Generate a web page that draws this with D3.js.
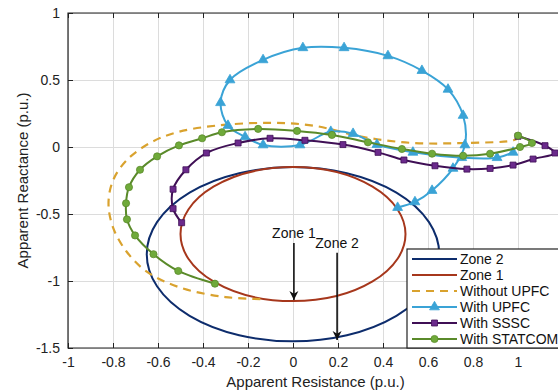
<!DOCTYPE html>
<html>
<head>
<meta charset="utf-8">
<script src="https://cdn.jsdelivr.net/npm/d3@7"></script>
<style>
  body { margin: 0; background: #fff; }
  svg { display: block; font-family: "Liberation Sans", Arial, sans-serif; }
  .grid line { stroke: #dcdcdc; stroke-width: 1; }
  .grid .domain { display: none; }
  .axis text { font-size: 14px; fill: #222; }
  .axis .domain { display: none; }
  .axis line { stroke: #222; }
</style>
</head>
<body>
<svg id="chart" width="558" height="390"></svg>
<script>
// ticks
const xTicks = [-1, -0.8, -0.6, -0.4, -0.2, 0, 0.2, 0.4, 0.6, 0.8, 1];
const yTicks = [-1.5, -1, -0.5, 0, 0.5, 1];

// mho zones: [centerR, centerX, radius]
const zone2 = [0, -0.8, 0.65];
const zone1 = [0, -0.65, 0.5];

// impedance trajectories [R, X]
const withoutUpfc = [
  [1.01, 0.075], [0.98, 0.05], [0.756, 0.03], [0.533, 0.03], [0.31, 0.075],
  [0.089, 0.16], [-0.116, 0.18], [-0.338, 0.16], [-0.516, 0.11], [-0.636, 0.03],
  [-0.74, -0.1], [-0.8, -0.25], [-0.82, -0.42], [-0.8, -0.6], [-0.74, -0.78],
  [-0.65, -0.93], [-0.5, -1.05], [-0.3, -1.12], [-0.13, -1.135]
];
const withUpfc = [
  [0.978, -0.04], [0.907, -0.08], [0.75, -0.08], [0.533, -0.04], [0.373, 0.018],
  [0.267, 0.1], [0.168, 0.115], [0.031, 0.015], [-0.133, 0.015], [-0.213, 0.075],
  [-0.289, 0.16], [-0.322, 0.33], [-0.28, 0.5], [-0.133, 0.65], [0.044, 0.74],
  [0.227, 0.74], [0.422, 0.68], [0.573, 0.57], [0.689, 0.43], [0.756, 0.235],
  [0.764, 0.015], [0.711, -0.16], [0.618, -0.325], [0.542, -0.41], [0.465, -0.452]
];
const withSssc = [
  [1.0, 0.08], [1.12, 0.01], [1.164, -0.045], [1.067, -0.09], [0.978, -0.135],
  [0.876, -0.16], [0.773, -0.165], [0.631, -0.14], [0.493, -0.097], [0.378, -0.04],
  [0.222, 0.018], [0.053, 0.05], [-0.102, 0.065], [-0.244, 0.03], [-0.385, -0.045],
  [-0.476, -0.17], [-0.533, -0.315], [-0.533, -0.46], [-0.495, -0.565]
];
const withStatcom = [
  [1.0, 0.085], [1.062, 0.03], [1.009, 0.0], [0.876, -0.05], [0.756, -0.065],
  [0.618, -0.05], [0.484, -0.015], [0.333, 0.035], [0.173, 0.09], [0.018, 0.12],
  [-0.155, 0.135], [-0.316, 0.11], [-0.404, 0.065], [-0.507, 0.012], [-0.604, -0.07],
  [-0.68, -0.17], [-0.729, -0.3], [-0.742, -0.42], [-0.738, -0.54], [-0.702, -0.66],
  [-0.62, -0.8], [-0.51, -0.925], [-0.347, -1.02]
];

// annotation arrows: label, R, X from, X to
const arrows = [
  ['Zone 1', 0.004, -0.716, -1.142],
  ['Zone 2', 0.196, -0.79, -1.44]
];

const legendNames = ['Zone 2', 'Zone 1', 'Without UPFC', 'With UPFC', 'With SSSC', 'With STATCOM'];

const colors = {
  zone2: '#0d2c6c',
  zone1: '#a6371c',
  without: '#d9a22e',
  upfc: '#3aa3d6',
  sssc: '#3f0f55',
  ssscFill: '#6b2a8c',
  statcom: '#5a8a2a',
  statcomFill: '#6faa3a'
};

const width = 558, height = 390;
const margin = {top: 13, right: -5, bottom: 42, left: 68};

const svg = d3.select('#chart');

const x = d3.scaleLinear().domain([-1, 1.2]).range([margin.left, width - margin.right]);
const y = d3.scaleLinear().domain([-1.5, 1]).range([height - margin.bottom, margin.top]);

svg.append('defs').append('clipPath').attr('id', 'plot')
  .append('rect')
  .attr('x', x(-1)).attr('y', y(1))
  .attr('width', x(1.2) - x(-1)).attr('height', y(-1.5) - y(1));

// grid
svg.append('g').attr('class', 'grid')
  .attr('transform', `translate(0,${y(-1.5)})`)
  .call(d3.axisBottom(x).tickValues(xTicks).tickSize(-(y(-1.5) - y(1))).tickFormat(''));
svg.append('g').attr('class', 'grid')
  .attr('transform', `translate(${x(-1)},0)`)
  .call(d3.axisLeft(y).tickValues(yTicks).tickSize(-(x(1.2) - x(-1))).tickFormat(''));

const fmt = d => String(d).replace('-', '-');

// axes with inward ticks
svg.append('g').attr('class', 'axis')
  .attr('transform', `translate(0,${y(-1.5)})`)
  .call(d3.axisBottom(x).tickValues(xTicks).tickSizeInner(-5).tickSizeOuter(0).tickPadding(9).tickFormat(fmt));
svg.append('g').attr('class', 'axis')
  .attr('transform', `translate(0,${y(1)})`)
  .call(d3.axisTop(x).tickValues(xTicks).tickSizeInner(-5).tickSizeOuter(0).tickFormat(''));
svg.append('g').attr('class', 'axis')
  .attr('transform', `translate(${x(-1)},0)`)
  .call(d3.axisLeft(y).tickValues(yTicks).tickSizeInner(-5).tickSizeOuter(0).tickPadding(8).tickFormat(fmt));

const plot = svg.append('g').attr('clip-path', 'url(#plot)');

// zones
[[zone2, colors.zone2], [zone1, colors.zone1]].forEach(([z, c]) => {
  plot.append('ellipse')
    .attr('cx', x(z[0])).attr('cy', y(z[1]))
    .attr('rx', x(z[2]) - x(0)).attr('ry', y(0) - y(z[2]))
    .attr('fill', 'none').attr('stroke', c).attr('stroke-width', 2);
});

const line = d3.line().x(d => x(d[0])).y(d => y(d[1])).curve(d3.curveCatmullRom.alpha(0.5));

plot.append('path').datum(withoutUpfc)
  .attr('d', line).attr('fill', 'none')
  .attr('stroke', colors.without).attr('stroke-width', 2.2).attr('stroke-dasharray', '8,6');

const triangle = d3.symbol().type(d3.symbolTriangle).size(42);
const square = d3.symbol().type(d3.symbolSquare).size(36);
const circle = d3.symbol().type(d3.symbolCircle).size(40);

const series = [
  {data: withUpfc, stroke: colors.upfc, fill: colors.upfc, sym: triangle},
  {data: withSssc, stroke: colors.sssc, fill: colors.ssscFill, sym: square},
  {data: withStatcom, stroke: colors.statcom, fill: colors.statcomFill, sym: circle}
];

series.forEach(s => {
  plot.append('path').datum(s.data)
    .attr('d', line).attr('fill', 'none')
    .attr('stroke', s.stroke).attr('stroke-width', 2);
  plot.selectAll(null).data(s.data).join('path')
    .attr('transform', d => `translate(${x(d[0])},${y(d[1])})`)
    .attr('d', s.sym)
    .attr('fill', s.fill).attr('stroke', s.stroke).attr('stroke-width', 0.8);
});

// annotations
svg.append('defs').append('marker')
  .attr('id', 'arrow').attr('viewBox', '0 0 10 10')
  .attr('refX', 10).attr('refY', 5)
  .attr('markerWidth', 9).attr('markerHeight', 12)
  .attr('markerUnits', 'userSpaceOnUse')
  .attr('orient', 'auto')
  .append('path').attr('d', 'M0,0 L10,5 L0,10 L3,5 Z').attr('fill', '#111');

arrows.forEach(([label, r, x0, x1]) => {
  svg.append('text')
    .attr('x', x(r)).attr('y', y(x0) - 5)
    .attr('text-anchor', 'middle').attr('font-size', 14).attr('fill', '#111')
    .text(label);
  svg.append('line')
    .attr('x1', x(r)).attr('y1', y(x0))
    .attr('x2', x(r)).attr('y2', y(x1))
    .attr('stroke', '#111').attr('stroke-width', 1.6)
    .attr('marker-end', 'url(#arrow)');
});

// frame
svg.append('path')
  .attr('d', `M${x(1.2)},${y(1)} H${x(-1)} V${y(-1.5)} H${x(1.2)}`)
  .attr('fill', 'none').attr('stroke', '#222').attr('stroke-width', 1.2);

// axis titles
svg.append('text')
  .attr('x', (x(-1) + x(1.2)) / 2).attr('y', 387)
  .attr('text-anchor', 'middle').attr('font-size', 15).attr('fill', '#222')
  .text('Apparent Resistance (p.u.)');
svg.append('text')
  .attr('transform', `translate(28,${(y(1) + y(-1.5)) / 2}) rotate(-90)`)
  .attr('text-anchor', 'middle').attr('font-size', 15).attr('fill', '#222')
  .text('Apparent Reactance (p.u.)');

// legend
const lg = svg.append('g').attr('transform', 'translate(407,249)');
lg.append('rect')
  .attr('width', 200).attr('height', y(-1.5) - 249)
  .attr('fill', '#fff').attr('stroke', '#222').attr('stroke-width', 1.2);

const legendStyle = [
  {stroke: colors.zone2},
  {stroke: colors.zone1},
  {stroke: colors.without, dash: '8,6'},
  {stroke: colors.upfc, fill: colors.upfc, sym: triangle},
  {stroke: colors.sssc, fill: colors.ssscFill, sym: square},
  {stroke: colors.statcom, fill: colors.statcomFill, sym: circle}
];

legendNames.forEach((name, i) => {
  const st = legendStyle[i];
  const ry = 10 + i * 16;
  lg.append('line')
    .attr('x1', 5).attr('x2', 50).attr('y1', ry).attr('y2', ry)
    .attr('stroke', st.stroke).attr('stroke-width', 2.2)
    .attr('stroke-dasharray', st.dash || null);
  if (st.sym) {
    lg.append('path')
      .attr('transform', `translate(27.5,${ry})`)
      .attr('d', st.sym)
      .attr('fill', st.fill).attr('stroke', st.stroke).attr('stroke-width', 0.8);
  }
  lg.append('text')
    .attr('x', 53).attr('y', ry + 5)
    .attr('font-size', 14).attr('fill', '#111')
    .text(name);
});
</script>
</body>
</html>
